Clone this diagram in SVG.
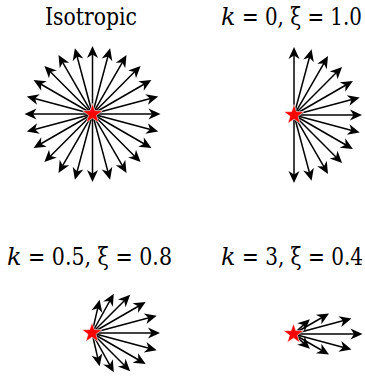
<svg xmlns="http://www.w3.org/2000/svg" xmlns:xlink="http://www.w3.org/1999/xlink" width="365" height="379" viewBox="0 0 365 379">
<style>
.s{stroke:#000;stroke-width:1.5;fill:none}
.h{fill:#000}
.star{fill:#f00;stroke:#fff;stroke-width:0.6}
.t{font-family:'DejaVu Serif','Liberation Serif',serif;font-size:24px;fill:#000}
.i{font-style:italic}
</style>
<defs>
<polygon id="star" points="0,-10.5 2.45,-3.4 10,-3.25 4,1.3 6.17,8.5 0,4.2 -6.17,8.5 -4,1.3 -10,-3.25 -2.45,-3.4"/>
<g id="a68"><line class="s" x2="60"/><path class="h" d="M68,0l-12,-5.5l3.5,5.5l-3.5,5.5z"/></g>
</defs>
<g id="connectors">
<g id="iso-arrows" transform="translate(92.5,114)">
<use xlink:href="#a68"/>
<use xlink:href="#a68" transform="rotate(15)"/>
<use xlink:href="#a68" transform="rotate(30)"/>
<use xlink:href="#a68" transform="rotate(45)"/>
<use xlink:href="#a68" transform="rotate(60)"/>
<use xlink:href="#a68" transform="rotate(75)"/>
<use xlink:href="#a68" transform="rotate(90)"/>
<use xlink:href="#a68" transform="rotate(105)"/>
<use xlink:href="#a68" transform="rotate(120)"/>
<use xlink:href="#a68" transform="rotate(135)"/>
<use xlink:href="#a68" transform="rotate(150)"/>
<use xlink:href="#a68" transform="rotate(165)"/>
<use xlink:href="#a68" transform="rotate(180)"/>
<use xlink:href="#a68" transform="rotate(195)"/>
<use xlink:href="#a68" transform="rotate(210)"/>
<use xlink:href="#a68" transform="rotate(225)"/>
<use xlink:href="#a68" transform="rotate(240)"/>
<use xlink:href="#a68" transform="rotate(255)"/>
<use xlink:href="#a68" transform="rotate(270)"/>
<use xlink:href="#a68" transform="rotate(285)"/>
<use xlink:href="#a68" transform="rotate(300)"/>
<use xlink:href="#a68" transform="rotate(315)"/>
<use xlink:href="#a68" transform="rotate(330)"/>
<use xlink:href="#a68" transform="rotate(345)"/>
</g>
<g id="k0-arrows" transform="translate(294,115)">
<use xlink:href="#a68" transform="rotate(-90)"/>
<use xlink:href="#a68" transform="rotate(-75)"/>
<use xlink:href="#a68" transform="rotate(-60)"/>
<use xlink:href="#a68" transform="rotate(-45)"/>
<use xlink:href="#a68" transform="rotate(-30)"/>
<use xlink:href="#a68" transform="rotate(-15)"/>
<use xlink:href="#a68"/>
<use xlink:href="#a68" transform="rotate(15)"/>
<use xlink:href="#a68" transform="rotate(30)"/>
<use xlink:href="#a68" transform="rotate(45)"/>
<use xlink:href="#a68" transform="rotate(60)"/>
<use xlink:href="#a68" transform="rotate(75)"/>
<use xlink:href="#a68" transform="rotate(90)"/>
</g>
<g id="k05-arrows" transform="translate(92,333)">
<g><line class="s" x2="60"/><path class="h" d="M68,0l-12,-5.5l3.5,5.5l-3.5,5.5z"/></g>
<g transform="rotate(-15)"><line class="s" x2="59"/><path class="h" d="M67,0l-12,-5.5l3.5,5.5l-3.5,5.5z"/></g>
<g transform="rotate(15)"><line class="s" x2="59"/><path class="h" d="M67,0l-12,-5.5l3.5,5.5l-3.5,5.5z"/></g>
<g transform="rotate(-30)"><line class="s" x2="54"/><path class="h" d="M62,0l-12,-5.5l3.5,5.5l-3.5,5.5z"/></g>
<g transform="rotate(30)"><line class="s" x2="54"/><path class="h" d="M62,0l-12,-5.5l3.5,5.5l-3.5,5.5z"/></g>
<g transform="rotate(-45)"><line class="s" x2="46"/><path class="h" d="M54,0l-12,-5.5l3.5,5.5l-3.5,5.5z"/></g>
<g transform="rotate(45)"><line class="s" x2="46"/><path class="h" d="M54,0l-12,-5.5l3.5,5.5l-3.5,5.5z"/></g>
<g transform="rotate(-61)"><line class="s" x2="37"/><path class="h" d="M45,0l-12,-5.5l3.5,5.5l-3.5,5.5z"/></g>
<g transform="rotate(61)"><line class="s" x2="37"/><path class="h" d="M45,0l-12,-5.5l3.5,5.5l-3.5,5.5z"/></g>
<g transform="rotate(-77)"><line class="s" x2="26"/><path class="h" d="M34,0l-12,-5.5l3.5,5.5l-3.5,5.5z"/></g>
<g transform="rotate(77)"><line class="s" x2="26"/><path class="h" d="M34,0l-12,-5.5l3.5,5.5l-3.5,5.5z"/></g>
</g>
<g id="k3-arrows" transform="translate(293.5,334)">
<g><line class="s" x2="61"/><path class="h" d="M69,0l-12,-5.5l3.5,5.5l-3.5,5.5z"/></g>
<g transform="rotate(-15)"><line class="s" x2="52"/><path class="h" d="M60,0l-12,-5.5l3.5,5.5l-3.5,5.5z"/></g>
<g transform="rotate(15)"><line class="s" x2="52"/><path class="h" d="M60,0l-12,-5.5l3.5,5.5l-3.5,5.5z"/></g>
<g transform="rotate(-30)"><line class="s" x2="33"/><path class="h" d="M41,0l-12,-5.5l3.5,5.5l-3.5,5.5z"/></g>
<g transform="rotate(30)"><line class="s" x2="33"/><path class="h" d="M41,0l-12,-5.5l3.5,5.5l-3.5,5.5z"/></g>
<g transform="rotate(-42)"><line class="s" x2="14"/><path class="h" d="M22,0l-12,-5.5l3.5,5.5l-3.5,5.5z"/></g>
<g transform="rotate(42)"><line class="s" x2="14"/><path class="h" d="M22,0l-12,-5.5l3.5,5.5l-3.5,5.5z"/></g>
</g>
</g>
<g id="panel-isotropic">
<text class="t" x="45" y="25" textLength="92" lengthAdjust="spacingAndGlyphs">Isotropic</text>
<use xlink:href="#star" class="star" x="92.5" y="114"/>
</g>
<g id="panel-k0">
<text class="t i" x="221" y="25">k</text>
<text class="t" transform="translate(242,25) scale(0.74,1)" textLength="162" lengthAdjust="spacingAndGlyphs">= 0, ξ = 1.0</text>
<use xlink:href="#star" class="star" x="294" y="115"/>
</g>
<g id="panel-k05">
<text class="t i" x="7" y="265">k</text>
<text class="t" transform="translate(28,265) scale(0.78,1)" textLength="184.6" lengthAdjust="spacingAndGlyphs">= 0.5, ξ = 0.8</text>
<use xlink:href="#star" class="star" x="92" y="333"/>
</g>
<g id="panel-k3">
<text class="t i" x="221" y="265">k</text>
<text class="t" transform="translate(242,265) scale(0.745,1)" textLength="162.4" lengthAdjust="spacingAndGlyphs">= 3, ξ = 0.4</text>
<use xlink:href="#star" class="star" x="293.5" y="334"/>
</g>
</svg>
